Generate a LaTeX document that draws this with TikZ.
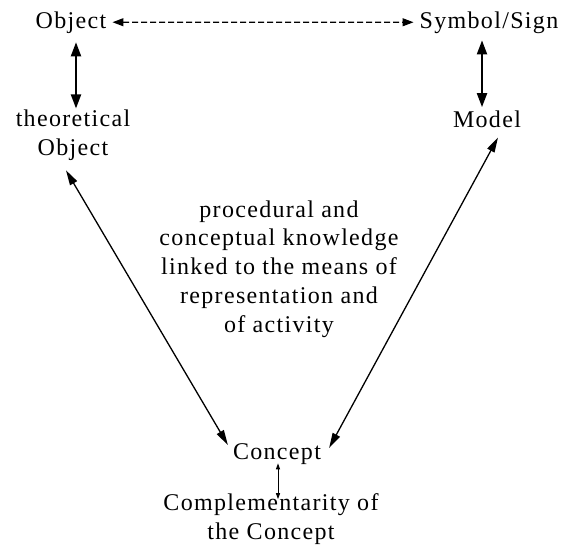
\documentclass[tikz,border=0pt]{standalone}
\usepackage{fontspec}
\setmainfont{Liberation Serif}[LetterSpace=5.5]
\usetikzlibrary{arrows.meta}
\begin{document}
\begin{tikzpicture}[x=1pt,y=-1pt,
  lbl/.style={inner sep=0pt,anchor=base,align=center,font=\fontsize{24}{28.7}\selectfont},
  bigtip/.style={{Triangle[length=14pt,width=10pt]}-{Triangle[length=14pt,width=10pt]},line width=2pt},
  dashtip/.style={{Triangle[length=11pt,width=8pt]}-{Triangle[length=11pt,width=8pt]},line width=1.1pt,dash pattern=on 6pt off 3pt},
  longtip/.style={{Triangle[length=15pt,width=8pt]}-{Triangle[length=15pt,width=8pt]},line width=1.3pt},
  smalltip/.style={{Triangle[length=6pt,width=4pt]}-{Triangle[length=6pt,width=4pt]},line width=1pt}]
\useasboundingbox (0,0) rectangle (561,552);
\node[lbl] (obj) at (71,28) {Object};
\node[lbl] (sym) at (489,28) {Symbol/Sign};
\node[lbl] (theo) at (73,155) {theoretical\\Object};
\node[lbl] (model) at (487,127) {Model};
\node[lbl] (mid) at (279,332) {procedural and\\conceptual knowledge\\linked to the means of\\representation and\\of activity};
\node[lbl] (con) at (277,459) {Concept};
\node[lbl] (comp) at (271,539) {Complementarity of\\the Concept};
% connectors
\draw[dashtip] ([xshift=6pt]obj.east) -- ([xshift=-6pt]sym.west);
\draw[bigtip] ([xshift=5pt,yshift=-9pt]obj.south) -- ([xshift=3pt,yshift=1pt]theo.north);
\draw[bigtip] ([xshift=-7pt,yshift=-7pt]sym.south) -- ([xshift=-5pt,yshift=3pt]model.north);
\draw[longtip] ([xshift=-7pt,yshift=-10pt]theo.south) -- ([xshift=-5pt,yshift=-2pt]con.north west);
\draw[longtip] ([xshift=11pt,yshift=-10pt]model.south) -- ([xshift=8pt,yshift=-5pt]con.north east);
\draw[smalltip] ([xshift=1pt,yshift=1pt]con.south) -- ([xshift=7pt,yshift=-6pt]comp.north);
\end{tikzpicture}
\end{document}
